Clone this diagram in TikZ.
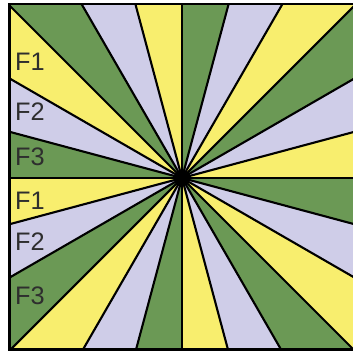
\documentclass[tikz,border=0pt]{standalone}
\usepackage{fontspec}
\setmainfont{Liberation Sans}
\usetikzlibrary{calc}

\definecolor{wgreen}{HTML}{6B9955}
\definecolor{wlilac}{HTML}{CFCDE8}
\definecolor{wyellow}{HTML}{F8EE6E}
\definecolor{fgray}{HTML}{2E2E2E}

\begin{document}
\begin{tikzpicture}[
  x=0.025cm, y=-0.025cm,
  ray/.style={draw=black, line width=1.5pt},
  frame/.style={draw=black, line width=2.1pt},
  fname/.style={font=\fontsize{18}{20}\selectfont, text=fgray, inner sep=0pt}
]
\useasboundingbox (0,0) rectangle (353,350);
\coordinate (hub) at (182,178);

% Wedges and rays
\begin{scope}
  \clip (9.5,4) rectangle (354.5,349.5);
  \foreach \j in {0,...,7}
    \foreach \c [count=\i from 0] in {wgreen, wlilac, wyellow} {
      \pgfmathsetmacro\a{45*\j+15*\i}
      \fill[\c] (hub) -- +(\a:500) -- +(\a+15:500) -- cycle;
    }
  \foreach \a in {0,15,...,345}
    \draw[ray] (hub) -- +(\a:500);
\end{scope}

% Frame and hub
\draw[frame] (9.5,4) rectangle (354.5,349.5);
\fill[black] (hub) circle (7.5);

% Labels
\foreach \n/\y [count=\i] in {F1/62, F2/112, F3/157, F1/201, F2/242, F3/296}
  \node[fname] (lab\i) at (30,\y) {\n};

\end{tikzpicture}
\end{document}
